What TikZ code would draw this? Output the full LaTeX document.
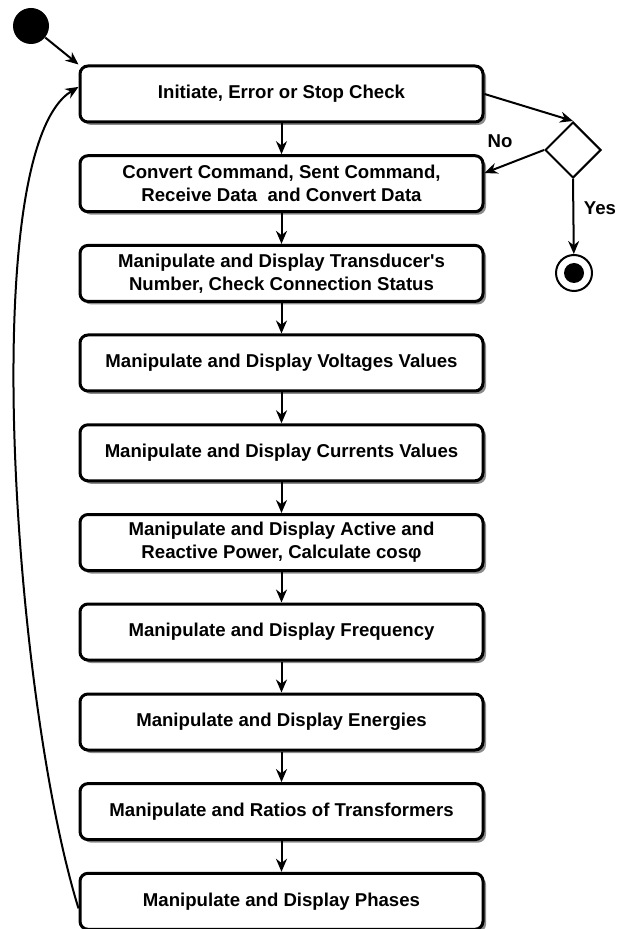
\documentclass[tikz,border=0pt]{standalone}
\usepackage{fontspec}
\setmainfont{Liberation Sans}
\usetikzlibrary{shapes.geometric,shadows,arrows.meta}

\begin{document}
\begin{tikzpicture}[x=0.5pt,y=-0.5pt,
		font=\bfseries\fontsize{9.3}{11.5}\selectfont,
		act/.style={draw,line width=1.5pt,rounded corners=4pt,fill=white,
			minimum width=201.5pt,minimum height=28pt,inner sep=0pt,align=center,
			drop shadow={shadow xshift=1.5pt,shadow yshift=-1.5pt,fill=black!45,opacity=1}},
		flow/.style={-{Stealth[length=6.5pt,width=5.5pt]},line width=1pt}]
		\useasboundingbox (0,0) rectangle (628,929);
		\node at (31,26)(start)[circle,fill,minimum size=18pt,inner sep=0pt]{};
		\node at (281.5,94)(init)[act]{Initiate, Error or Stop Check};
		\node at (281.5,183.7)(conv)[act]{Convert Command, Sent Command,\\Receive Data~~and Convert Data};
		\node at (281.5,273.4)(trans)[act]{Manipulate and Display Transducer\textquotesingle s\\Number, Check Connection Status};
		\node at (281.5,363)(volt)[act]{Manipulate and Display Voltages Values};
		\node at (281.5,452.8)(curr)[act]{Manipulate and Display Currents Values};
		\node at (281.5,542.5)(power)[act]{Manipulate and Display Active and\\Reactive Power, Calculate cosφ};
		\node at (281.5,632)(freq)[act]{Manipulate and Display Frequency};
		\node at (281.5,722)(energy)[act]{Manipulate and Display Energies};
		\node at (281.5,811.6)(ratio)[act]{Manipulate and Ratios of Transformers};
		\node at (281.5,901.3)(phase)[act]{Manipulate and Display Phases};
		\node at (573,150)(check)[diamond,draw,line width=1pt,fill=white,minimum size=28pt,inner sep=0pt]{};
		\node at (574,273)(stop)[circle,draw,line width=1pt,fill=white,minimum size=18pt,inner sep=0pt]{};
		\node at (574,273)(stopdot)[circle,fill,minimum size=10pt,inner sep=0pt]{};
		\node at (500,141)(no){No};
		\node at (600,208)(yes){Yes};
		\path[flow]
		(start) edge (init.north west)
		(init) edge (conv)
		(conv) edge (trans)
		(trans) edge (volt)
		(volt) edge (curr)
		(curr) edge (power)
		(power) edge (freq)
		(freq) edge (energy)
		(energy) edge (ratio)
		(ratio) edge (phase)
		(init.east) edge (check.north)
		(check.west) edge (conv.3)
		(check.south) edge (stop);
	\draw[flow] (phase.182) .. controls (14,700) and (-25,150) .. (init.178);
	\end{tikzpicture}
\end{document}
